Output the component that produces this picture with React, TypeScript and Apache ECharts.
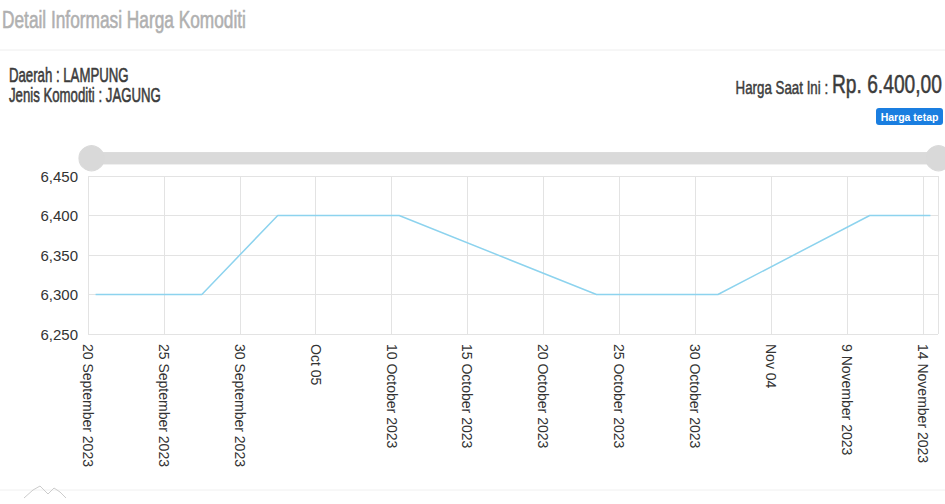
import React, { useEffect, useRef } from "react";
import * as echarts from "echarts";

// Price points (date/time of record, price in Rp)
const pointDates = [
  "2023-09-20T12:00:00Z",
  "2023-09-27T12:00:00Z",
  "2023-10-02T12:00:00Z",
  "2023-10-10T12:00:00Z",
  "2023-10-23T12:00:00Z",
  "2023-10-31T12:00:00Z",
  "2023-11-10T12:00:00Z",
  "2023-11-14T12:00:00Z",
];
const prices = [6300, 6300, 6400, 6400, 6300, 6300, 6400, 6400];

const axisStart = "2023-09-20T00:00:00Z";
const axisEnd = "2023-11-15T00:00:00Z";
const tickLabels = [
  "20 September 2023",
  "25 September 2023",
  "30 September 2023",
  "Oct 05",
  "10 October 2023",
  "15 October 2023",
  "20 October 2023",
  "25 October 2023",
  "30 October 2023",
  "Nov 04",
  "9 November 2023",
  "14 November 2023",
];
const yTicks = [6250, 6300, 6350, 6400, 6450];

const titleText = "Detail Informasi Harga Komoditi";
const regionText = "Daerah : LAMPUNG";
const commodityText = "Jenis Komoditi : JAGUNG";
const priceLabel = "Harga Saat Ini : ";
const priceValue = "Rp. 6.400,00";
const badgeText = "Harga tetap";

const DAY = 86400000;
const dayOffset = (s: string) => (Date.parse(s) - Date.parse(axisStart)) / DAY;

const SANS = '"Liberation Sans", Arial, sans-serif';

export default function App() {
  const ref = useRef<HTMLDivElement>(null);
  useEffect(() => {
    if (!ref.current) return;
    const chart = echarts.init(ref.current, null, { renderer: "svg" });
    const data = pointDates.map((d, i) => [dayOffset(d), prices[i]]);
    const heavy = (color: string, w: number) => ({ stroke: color, lineWidth: w });
    chart.setOption({
      animation: false,
      backgroundColor: "#ffffff",
      grid: { left: 88, right: 7, top: 176, bottom: 170 },
      xAxis: {
        type: "value",
        min: 0,
        max: dayOffset(axisEnd),
        interval: 5,
        axisLine: { show: false },
        axisTick: { show: false },
        splitLine: { show: true, lineStyle: { color: "#e3e3e3", width: 1 } },
        axisLabel: {
          rotate: -90,
          color: "#333333",
          fontSize: 14,
          fontFamily: SANS,
          margin: 10,
          showMaxLabel: false,
          formatter: (v: number) => tickLabels[Math.round(v / 5)] ?? "",
        },
      },
      yAxis: {
        type: "value",
        min: yTicks[0],
        max: yTicks[yTicks.length - 1],
        interval: 50,
        axisLine: { show: false },
        axisTick: { show: false },
        splitLine: { show: true, lineStyle: { color: "#e3e3e3", width: 1 } },
        axisLabel: {
          color: "#333333",
          fontSize: 15,
          fontFamily: SANS,
          margin: 10,
          formatter: (v: number) => v.toLocaleString("en-US"),
        },
      },
      dataZoom: [
        {
          type: "slider",
          xAxisIndex: 0,
          filterMode: "none",
          start: 0,
          end: 100,
          left: 88,
          right: 8,
          top: 152,
          height: 12,
          showDetail: false,
          brushSelect: false,
          borderColor: "transparent",
          backgroundColor: "#dadada",
          fillerColor: "#dadada",
          dataBackground: { lineStyle: { opacity: 0 }, areaStyle: { opacity: 0 } },
          selectedDataBackground: { lineStyle: { opacity: 0 }, areaStyle: { opacity: 0 } },
          moveHandleSize: 0,
          handleIcon: "circle",
          handleSize: "210%",
          handleStyle: { color: "#d9d9d9", borderColor: "#d9d9d9" },
          emphasis: { handleStyle: { color: "#d9d9d9", borderColor: "#d9d9d9" } },
        },
      ],
      series: [
        {
          type: "line",
          data,
          showSymbol: false,
          symbol: "none",
          lineStyle: { color: "#8dd3ee", width: 1.5 },
        },
      ],
      graphic: [
        {
          type: "text",
          x: 2,
          y: 31,
          scaleX: 0.72,
          style: {
            text: titleText,
            fontSize: 24,
            fontFamily: SANS,
            fill: "#b0b0b0",
            verticalAlign: "bottom",
            ...heavy("#b0b0b0", 0.6),
          },
        },
        {
          type: "line",
          shape: { x1: 0, y1: 50, x2: 945, y2: 50 },
          style: { stroke: "#eeeeee", lineWidth: 1 },
        },
        {
          type: "text",
          x: 9,
          y: 86,
          scaleX: 0.66,
          style: {
            text: regionText,
            fontSize: 20,
            fontFamily: SANS,
            fill: "#3c3c3c",
            verticalAlign: "bottom",
            ...heavy("#3c3c3c", 0.6),
          },
        },
        {
          type: "text",
          x: 9,
          y: 106,
          scaleX: 0.66,
          style: {
            text: commodityText,
            fontSize: 20,
            fontFamily: SANS,
            fill: "#3c3c3c",
            verticalAlign: "bottom",
            ...heavy("#3c3c3c", 0.6),
          },
        },
        {
          type: "text",
          x: 942,
          y: 97,
          scaleX: 0.74,
          style: {
            text: "{a|" + priceLabel + "}{b|" + priceValue + "}",
            align: "right",
            verticalAlign: "bottom",
            fontFamily: SANS,
            rich: {
              a: {
                fontSize: 18,
                fontFamily: SANS,
                fill: "#3c3c3c",
                stroke: "#3c3c3c",
                lineWidth: 0.5,
                verticalAlign: "bottom",
              },
              b: {
                fontSize: 26,
                fontFamily: SANS,
                fill: "#3c3c3c",
                stroke: "#3c3c3c",
                lineWidth: 0.5,
                verticalAlign: "bottom",
              },
            },
          },
        },
        {
          type: "rect",
          shape: { x: 876, y: 108, width: 67, height: 17, r: 3 },
          style: { fill: "#1a7ee0" },
        },
        {
          type: "text",
          x: 909.5,
          y: 116.5,
          style: {
            text: badgeText,
            fontSize: 10.5,
            fontWeight: "bold",
            fontFamily: SANS,
            fill: "#ffffff",
            align: "center",
            verticalAlign: "middle",
          },
        },
        {
          type: "line",
          shape: { x1: 0, y1: 490, x2: 945, y2: 490 },
          style: { stroke: "#f0f0f0", lineWidth: 1 },
        },
        {
          type: "polyline",
          shape: { points: [[24, 498], [33, 490], [40, 486], [48, 494], [54, 488], [60, 492], [66, 498]] },
          style: { stroke: "#cccccc", lineWidth: 1, fill: "none" },
        },
      ],
    });
    return () => chart.dispose();
  }, []);
  return (
    <div
      ref={ref}
      style={{ position: "absolute", left: 0, top: 0, width: 945, height: 504 }}
    />
  );
}
